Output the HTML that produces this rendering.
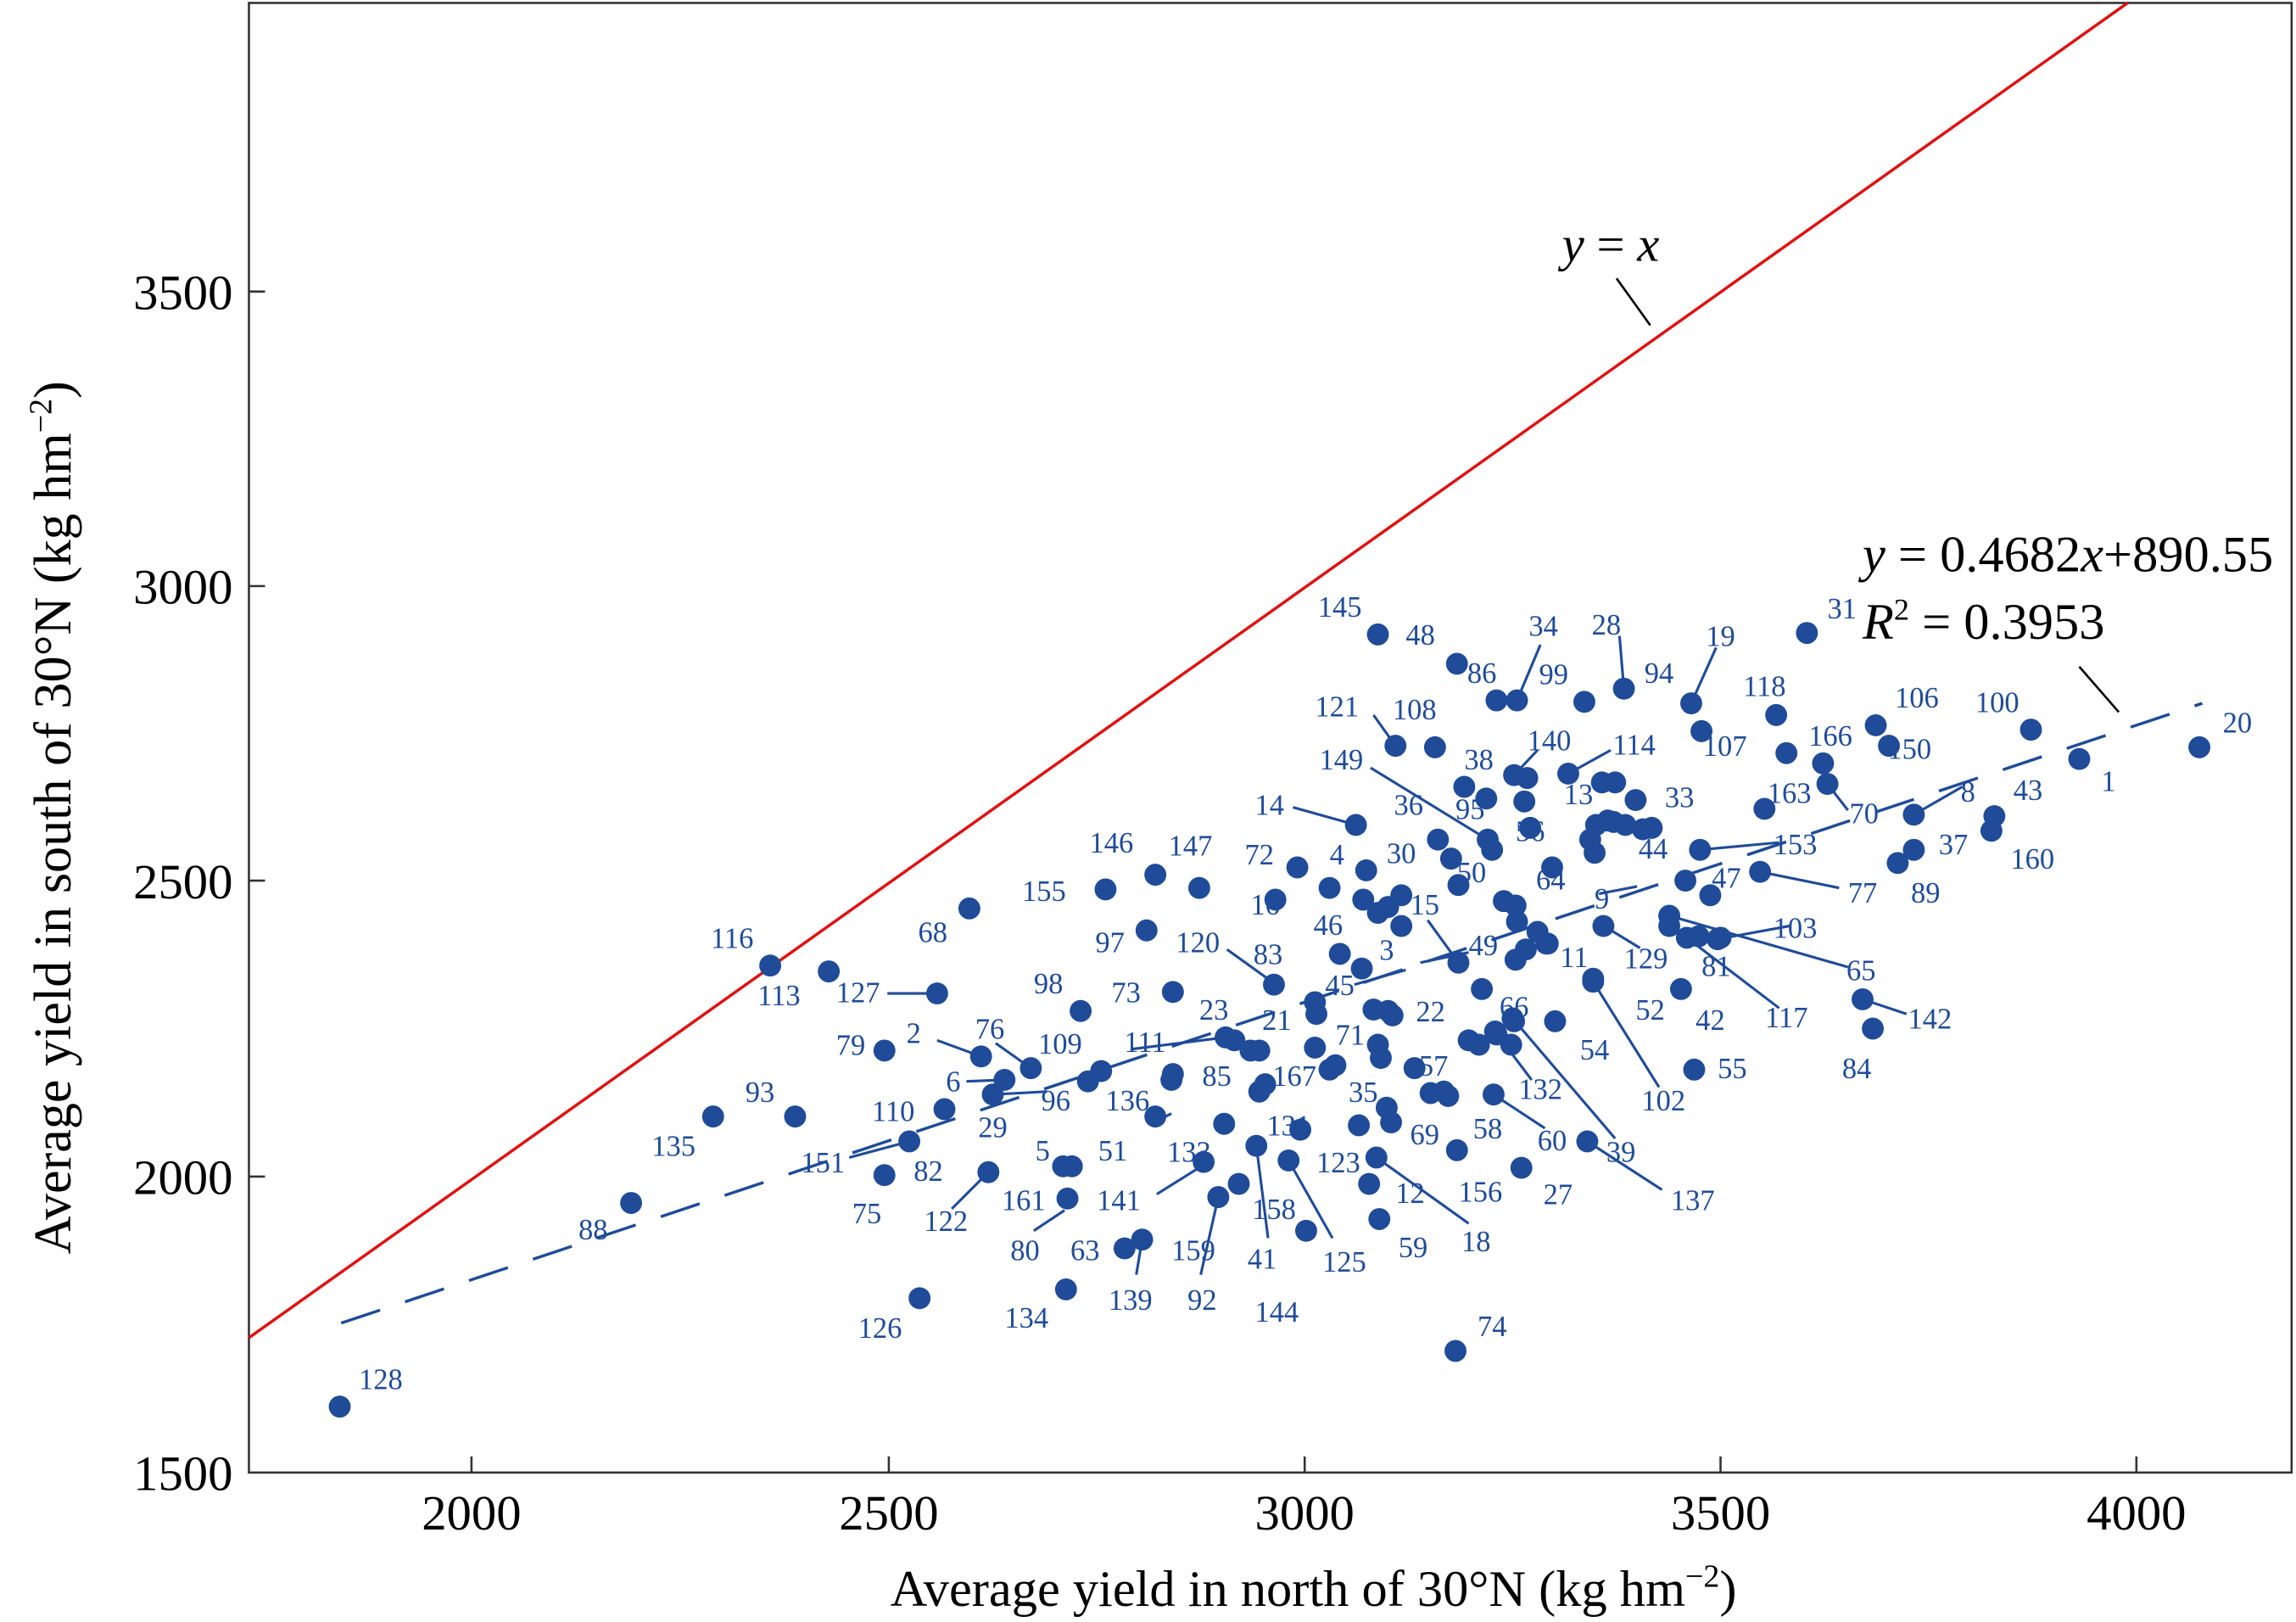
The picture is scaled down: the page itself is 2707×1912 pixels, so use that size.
<!DOCTYPE html>
<html><head><meta charset="utf-8"><style>html,body{margin:0;padding:0;background:#fff}svg{display:block}</style></head>
<body>
<svg xmlns="http://www.w3.org/2000/svg" width="2707" height="1912" viewBox="0 0 1568 1107" preserveAspectRatio="none" font-family="Liberation Serif, serif">
<rect width="1568" height="1107" fill="#fff"/>
<rect x="170" y="2" width="1395" height="1003" fill="none" stroke="#333" stroke-width="1.5"/>
<g stroke="#333" stroke-width="1.5">
<line x1="322" y1="1005" x2="322" y2="994"/><line x1="607" y1="1005" x2="607" y2="994"/><line x1="891" y1="1005" x2="891" y2="994"/><line x1="1175" y1="1005" x2="1175" y2="994"/><line x1="1459" y1="1005" x2="1459" y2="994"/>
<line x1="170" y1="803" x2="181" y2="803"/><line x1="170" y1="601" x2="181" y2="601"/><line x1="170" y1="400" x2="181" y2="400"/><line x1="170" y1="199" x2="181" y2="199"/>
</g>
<g font-size="34" fill="#000" text-anchor="middle">
<text x="322" y="1044">2000</text><text x="607" y="1044">2500</text><text x="891" y="1044">3000</text><text x="1175" y="1044">3500</text><text x="1459" y="1044">4000</text>
</g>
<g font-size="34" fill="#000" text-anchor="end">
<text x="159" y="1017">1500</text><text x="159" y="815">2000</text><text x="159" y="613">2500</text><text x="159" y="412">3000</text><text x="159" y="211">3500</text>
</g>
<text x="897" y="1096" font-size="35" text-anchor="middle">Average yield in north of 30°N (kg hm<tspan dy="-13" font-size="22">−2</tspan><tspan dy="13">)</tspan></text>
<text transform="translate(48,558) rotate(-90)" font-size="36" text-anchor="middle">Average yield in south of 30°N (kg hm<tspan dy="-13" font-size="22">−2</tspan><tspan dy="13">)</tspan></text>
<line x1="170" y1="913" x2="1453" y2="2" stroke="#e01010" stroke-width="2"/>
<line x1="1104" y1="190" x2="1127" y2="222" stroke="#000" stroke-width="1.5"/>
<text x="1100" y="178" font-size="34" font-style="italic" text-anchor="middle">y<tspan font-style="normal"> = </tspan>x</text>
<line x1="233" y1="903" x2="1504" y2="480" stroke="#1f4b99" stroke-width="2" stroke-dasharray="28,18"/>
<line x1="1420" y1="455" x2="1447" y2="486" stroke="#000" stroke-width="1.5"/>
<text x="1272" y="390" font-size="35"><tspan font-style="italic">y</tspan> = 0.4682<tspan font-style="italic">x</tspan>+890.55</text>
<text x="1272" y="436" font-size="35"><tspan font-style="italic">R</tspan><tspan dy="-13" font-size="21">2</tspan><tspan dy="13"> = 0.3953</tspan></text>
<g stroke="#1f4b99" stroke-width="1.8">
<line x1="606" y1="678" x2="640" y2="678"/><line x1="640" y1="710" x2="670" y2="721"/><line x1="680" y1="712" x2="704" y2="729"/>
<line x1="660" y1="738" x2="686" y2="737"/><line x1="715" y1="745" x2="678" y2="747"/><line x1="580" y1="790" x2="621" y2="779"/>
<line x1="650" y1="825" x2="675" y2="800"/><line x1="706" y1="840" x2="727" y2="826"/><line x1="776" y1="870" x2="780" y2="846"/>
<line x1="820" y1="870" x2="832" y2="817"/><line x1="790" y1="815" x2="822" y2="795"/><line x1="866" y1="845" x2="858" y2="782"/>
<line x1="910" y1="845" x2="880" y2="792"/><line x1="1003" y1="835" x2="940" y2="790"/><line x1="1135" y1="812" x2="1084" y2="779"/>
<line x1="1103" y1="777" x2="1033" y2="695"/><line x1="1055" y1="770" x2="1020" y2="747"/><line x1="1133" y1="742" x2="1088" y2="670"/>
<line x1="1046" y1="737" x2="1021" y2="704"/><line x1="1215" y1="688" x2="1152" y2="640"/><line x1="1262" y1="660" x2="1140" y2="625"/>
<line x1="1302" y1="692" x2="1272" y2="682"/><line x1="1222" y1="632" x2="1173" y2="641"/><line x1="1256" y1="606" x2="1202" y2="595"/>
<line x1="1215" y1="575" x2="1161" y2="580"/><line x1="1340" y1="537" x2="1307" y2="556"/><line x1="1262" y1="553" x2="1248" y2="535"/>
<line x1="938" y1="488" x2="953" y2="509"/><line x1="936" y1="524" x2="1016" y2="573"/><line x1="883" y1="551" x2="926" y2="563"/>
<line x1="838" y1="648" x2="870" y2="671"/><line x1="773" y1="716" x2="837" y2="708"/><line x1="975" y1="628" x2="996" y2="657"/>
<line x1="1003" y1="650" x2="970" y2="657"/><line x1="925" y1="672" x2="960" y2="662"/><line x1="1092" y1="610" x2="1118" y2="605"/>
<line x1="1106" y1="434" x2="1109" y2="470"/><line x1="1052" y1="440" x2="1036" y2="478"/><line x1="1172" y1="442" x2="1155" y2="480"/>
<line x1="1100" y1="512" x2="1071" y2="528"/><line x1="1050" y1="512" x2="1034" y2="529"/><line x1="790" y1="765" x2="800" y2="760"/>
<line x1="1120" y1="647" x2="1097" y2="633"/>
</g>
<g fill="#1f4b99">
<circle cx="232" cy="960" r="7.5"/><circle cx="628" cy="886" r="7.5"/><circle cx="728" cy="880" r="7.5"/><circle cx="994" cy="922" r="7.5"/>
<circle cx="431" cy="821" r="7.5"/><circle cx="487" cy="762" r="7.5"/><circle cx="543" cy="762" r="7.5"/><circle cx="526" cy="659" r="7.5"/>
<circle cx="566" cy="663" r="7.5"/><circle cx="640" cy="678" r="7.5"/><circle cx="604" cy="717" r="7.5"/><circle cx="670" cy="721" r="7.5"/>
<circle cx="704" cy="729" r="7.5"/><circle cx="686" cy="737" r="7.5"/><circle cx="678" cy="747" r="7.5"/><circle cx="645" cy="757" r="7.5"/>
<circle cx="621" cy="779" r="7.5"/><circle cx="604" cy="802" r="7.5"/><circle cx="675" cy="800" r="7.5"/><circle cx="729" cy="818" r="7.5"/>
<circle cx="768" cy="852" r="7.5"/><circle cx="780" cy="846" r="7.5"/><circle cx="832" cy="817" r="7.5"/><circle cx="858" cy="782" r="7.5"/>
<circle cx="846" cy="808" r="7.5"/><circle cx="892" cy="840" r="7.5"/><circle cx="880" cy="792" r="7.5"/><circle cx="942" cy="832" r="7.5"/>
<circle cx="940" cy="790" r="7.5"/><circle cx="935" cy="808" r="7.5"/><circle cx="995" cy="785" r="7.5"/><circle cx="1039" cy="797" r="7.5"/>
<circle cx="1084" cy="779" r="7.5"/><circle cx="1033" cy="695" r="7.5"/><circle cx="1020" cy="747" r="7.5"/><circle cx="989" cy="748" r="7.5"/>
<circle cx="950" cy="766" r="7.5"/><circle cx="928" cy="768" r="7.5"/><circle cx="888" cy="771" r="7.5"/><circle cx="822" cy="793" r="7.5"/>
<circle cx="726" cy="796" r="7.5"/><circle cx="732" cy="796" r="7.5"/><circle cx="789" cy="762" r="7.5"/><circle cx="800" cy="737" r="7.5"/><circle cx="801" cy="733" r="7.5"/>
<circle cx="837" cy="708" r="7.5"/><circle cx="843" cy="710" r="7.5"/><circle cx="860" cy="717" r="7.5"/><circle cx="860" cy="745" r="7.5"/>
<circle cx="898" cy="715" r="7.5"/><circle cx="912" cy="727" r="7.5"/><circle cx="966" cy="729" r="7.5"/><circle cx="948" cy="690" r="7.5"/>
<circle cx="1034" cy="697" r="7.5"/><circle cx="1021" cy="704" r="7.5"/><circle cx="1062" cy="697" r="7.5"/><circle cx="1088" cy="670" r="7.5"/>
<circle cx="1088" cy="668" r="7.5"/><circle cx="1057" cy="644" r="7.5"/><circle cx="1148" cy="675" r="7.5"/><circle cx="1140" cy="632" r="7.5"/>
<circle cx="1152" cy="640" r="7.5"/><circle cx="1140" cy="625" r="7.5"/><circle cx="1272" cy="682" r="7.5"/><circle cx="1279" cy="702" r="7.5"/>
<circle cx="1157" cy="730" r="7.5"/><circle cx="1173" cy="641" r="7.5"/><circle cx="1202" cy="595" r="7.5"/><circle cx="1296" cy="589" r="7.5"/>
<circle cx="1307" cy="580" r="7.5"/><circle cx="1360" cy="567" r="7.5"/><circle cx="1362" cy="557" r="7.5"/><circle cx="1307" cy="556" r="7.5"/>
<circle cx="1420" cy="518" r="7.5"/><circle cx="1502" cy="510" r="7.5"/><circle cx="1387" cy="498" r="7.5"/><circle cx="1281" cy="495" r="7.5"/>
<circle cx="1290" cy="509" r="7.5"/><circle cx="1245" cy="521" r="7.5"/><circle cx="1248" cy="535" r="7.5"/><circle cx="1205" cy="552" r="7.5"/><circle cx="1213" cy="488" r="7.5"/>
<circle cx="1220" cy="514" r="7.5"/><circle cx="1234" cy="432" r="7.5"/><circle cx="1155" cy="480" r="7.5"/><circle cx="1162" cy="499" r="7.5"/>
<circle cx="1109" cy="470" r="7.5"/><circle cx="1082" cy="479" r="7.5"/><circle cx="1036" cy="478" r="7.5"/><circle cx="1022" cy="478" r="7.5"/>
<circle cx="995" cy="453" r="7.5"/><circle cx="941" cy="433" r="7.5"/><circle cx="953" cy="509" r="7.5"/><circle cx="980" cy="510" r="7.5"/>
<circle cx="1034" cy="529" r="7.5"/><circle cx="1043" cy="531" r="7.5"/><circle cx="1071" cy="528" r="7.5"/><circle cx="1000" cy="537" r="7.5"/>
<circle cx="1041" cy="547" r="7.5"/><circle cx="1103" cy="534" r="7.5"/><circle cx="1094" cy="534" r="7.5"/><circle cx="1117" cy="546" r="7.5"/>
<circle cx="1016" cy="573" r="7.5"/><circle cx="982" cy="573" r="7.5"/><circle cx="1019" cy="580" r="7.5"/><circle cx="926" cy="563" r="7.5"/>
<circle cx="886" cy="592" r="7.5"/><circle cx="908" cy="606" r="7.5"/><circle cx="933" cy="594" r="7.5"/><circle cx="996" cy="604" r="7.5"/><circle cx="991" cy="586" r="7.5"/>
<circle cx="1110" cy="563" r="7.5"/><circle cx="1098" cy="560" r="7.5"/><circle cx="1122" cy="566" r="7.5"/><circle cx="1086" cy="573" r="7.5"/><circle cx="1089" cy="582" r="7.5"/>
<circle cx="1161" cy="580" r="7.5"/><circle cx="1151" cy="601" r="7.5"/><circle cx="1168" cy="611" r="7.5"/><circle cx="1060" cy="592" r="7.5"/>
<circle cx="871" cy="614" r="7.5"/><circle cx="996" cy="657" r="7.5"/><circle cx="915" cy="651" r="7.5"/><circle cx="930" cy="661" r="7.5"/>
<circle cx="898" cy="684" r="7.5"/><circle cx="899" cy="692" r="7.5"/><circle cx="870" cy="672" r="7.5"/><circle cx="755" cy="607" r="7.5"/><circle cx="789" cy="597" r="7.5"/>
<circle cx="819" cy="606" r="7.5"/><circle cx="662" cy="620" r="7.5"/><circle cx="783" cy="635" r="7.5"/><circle cx="738" cy="690" r="7.5"/><circle cx="801" cy="677" r="7.5"/>
<circle cx="752" cy="731" r="7.5"/><circle cx="743" cy="738" r="7.5"/><circle cx="931" cy="614" r="7.5"/><circle cx="941" cy="623" r="7.5"/>
<circle cx="948" cy="619" r="7.5"/><circle cx="957" cy="611" r="7.5"/><circle cx="957" cy="632" r="7.5"/><circle cx="1027" cy="615" r="7.5"/>
<circle cx="1035" cy="618" r="7.5"/><circle cx="1036" cy="629" r="7.5"/><circle cx="1050" cy="636" r="7.5"/><circle cx="1056" cy="644" r="7.5"/>
<circle cx="1035" cy="655" r="7.5"/><circle cx="1042" cy="648" r="7.5"/><circle cx="1012" cy="675" r="7.5"/><circle cx="1095" cy="632" r="7.5"/>
<circle cx="1160" cy="639" r="7.5"/><circle cx="1175" cy="640" r="7.5"/><circle cx="1003" cy="710" r="7.5"/><circle cx="1010" cy="713" r="7.5"/>
<circle cx="1022" cy="706" r="7.5"/><circle cx="1032" cy="713" r="7.5"/><circle cx="941" cy="713" r="7.5"/><circle cx="943" cy="722" r="7.5"/>
<circle cx="938" cy="689" r="7.5"/><circle cx="951" cy="693" r="7.5"/><circle cx="854" cy="717" r="7.5"/><circle cx="864" cy="740" r="7.5"/>
<circle cx="836" cy="767" r="7.5"/><circle cx="977" cy="746" r="7.5"/><circle cx="986" cy="745" r="7.5"/><circle cx="908" cy="730" r="7.5"/>
<circle cx="947" cy="756" r="7.5"/><circle cx="1090" cy="563" r="7.5"/><circle cx="1102" cy="561" r="7.5"/><circle cx="1128" cy="565" r="7.5"/>
<circle cx="1015" cy="545" r="7.5"/><circle cx="1045" cy="565" r="7.5"/>
</g>
<g font-size="20" fill="#1f4b99" text-anchor="middle">
<text x="260" y="948">128</text><text x="601" y="913">126</text><text x="701" y="906">134</text><text x="1019" y="912">74</text>
<text x="405" y="846">88</text><text x="460" y="789">135</text><text x="519" y="752">93</text><text x="500" y="647">116</text>
<text x="532" y="686">113</text><text x="586" y="684">127</text><text x="581" y="720">79</text><text x="624" y="712">2</text>
<text x="676" y="709">76</text><text x="724" y="719">109</text><text x="651" y="745">6</text><text x="721" y="758">96</text>
<text x="610" y="765">110</text><text x="678" y="776">29</text><text x="562" y="800">151</text><text x="634" y="806">82</text>
<text x="592" y="835">75</text><text x="646" y="840">122</text><text x="699" y="826">161</text><text x="700" y="860">80</text>
<text x="741" y="860">63</text><text x="772" y="894">139</text><text x="815" y="860">159</text><text x="821" y="894">92</text>
<text x="862" y="866">41</text><text x="870" y="832">158</text><text x="872" y="902">144</text><text x="918" y="868">125</text>
<text x="965" y="858">59</text><text x="1008" y="854">18</text><text x="963" y="821">12</text><text x="1011" y="820">156</text>
<text x="1064" y="822">27</text><text x="1156" y="826">137</text><text x="1107" y="793">39</text><text x="1060" y="785">60</text>
<text x="1016" y="777">58</text><text x="973" y="781">69</text><text x="914" y="800">123</text><text x="880" y="775">131</text>
<text x="812" y="793">133</text><text x="764" y="826">141</text><text x="712" y="792">5</text><text x="760" y="792">51</text>
<text x="770" y="758">136</text><text x="831" y="741">85</text><text x="782" y="718">111</text><text x="829" y="696">23</text>
<text x="872" y="703">21</text><text x="884" y="741">167</text><text x="922" y="713">71</text><text x="931" y="752">35</text>
<text x="979" y="734">57</text><text x="977" y="697">22</text><text x="1034" y="694">66</text><text x="1052" y="750">132</text>
<text x="1089" y="723">54</text><text x="1136" y="758">102</text><text x="1127" y="696">52</text><text x="1075" y="660">11</text>
<text x="1124" y="661">129</text><text x="1168" y="703">42</text><text x="1172" y="666">81</text><text x="1220" y="701">117</text>
<text x="1271" y="669">65</text><text x="1318" y="702">142</text><text x="1268" y="736">84</text><text x="1183" y="736">55</text>
<text x="1226" y="640">103</text><text x="1272" y="616">77</text><text x="1315" y="616">89</text><text x="1334" y="583">37</text>
<text x="1388" y="593">160</text><text x="1385" y="546">43</text><text x="1344" y="547">8</text><text x="1273" y="562">70</text>
<text x="1440" y="540">1</text><text x="1528" y="500">20</text><text x="1364" y="486">100</text><text x="1309" y="483">106</text>
<text x="1304" y="518">150</text><text x="1250" y="509">166</text><text x="1222" y="548">163</text><text x="1205" y="475">118</text>
<text x="1258" y="422">31</text><text x="1175" y="441">19</text><text x="1178" y="516">107</text><text x="1133" y="466">94</text>
<text x="1097" y="433">28</text><text x="1054" y="434">34</text><text x="1061" y="467">99</text><text x="1012" y="466">86</text>
<text x="970" y="440">48</text><text x="915" y="421">145</text><text x="913" y="489">121</text><text x="966" y="491">108</text>
<text x="1058" y="512">140</text><text x="1116" y="515">114</text><text x="1010" y="525">38</text><text x="1078" y="549">13</text>
<text x="1147" y="551">33</text><text x="916" y="525">149</text><text x="962" y="556">36</text><text x="1004" y="559">95</text>
<text x="1045" y="574">56</text><text x="867" y="556">14</text><text x="860" y="590">72</text><text x="913" y="590">4</text>
<text x="957" y="589">30</text><text x="1005" y="602">50</text><text x="1129" y="586">44</text><text x="1226" y="583">153</text>
<text x="1179" y="606">47</text><text x="1059" y="607">64</text><text x="1094" y="620">9</text><text x="864" y="624">16</text>
<text x="973" y="624">15</text><text x="907" y="638">46</text><text x="947" y="655">3</text><text x="1013" y="652">49</text>
<text x="915" y="679">45</text><text x="866" y="658">83</text><text x="818" y="650">120</text><text x="759" y="582">146</text>
<text x="813" y="584">147</text><text x="713" y="615">155</text><text x="758" y="650">97</text><text x="637" y="643">68</text>
<text x="716" y="678">98</text><text x="769" y="684">73</text>
</g>
</svg>
</body></html>
